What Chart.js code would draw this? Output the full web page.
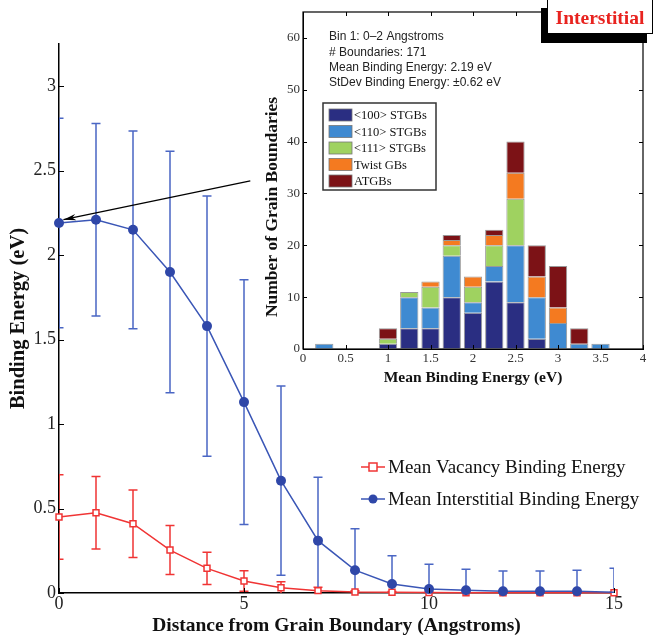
<!DOCTYPE html>
<html>
<head>
<meta charset="utf-8">
<script src="https://cdn.jsdelivr.net/npm/chart.js@4.4.1/dist/chart.umd.min.js"></script>
<style>
  html, body { margin: 0; padding: 0; background: #fff; }
  #wrap { position: relative; width: 656px; height: 640px; overflow: hidden; }
  #main { position: absolute; left: 0; top: 0; }
  #inset { position: absolute; left: 255px; top: 0; }
  #tag {
    position: absolute; left: 547px; top: -1px; width: 104px; height: 33px;
    background: #fff; border: 1px solid #000; box-shadow: -6px 9px 0 #000;
    font: bold 19.5px "Liberation Serif", "Times New Roman", serif; color: #e8231f;
    text-align: center; line-height: 35px;
  }
</style>
</head>
<body>
<div id="wrap">
  <canvas id="main" width="656" height="640"></canvas>
  <canvas id="inset" width="401" height="395"></canvas>
  <div id="tag">Interstitial</div>
</div>
<script>
// ---- main chart data ----
const distance = [0, 1, 2, 3, 4, 5, 6, 7, 8, 9, 10, 11, 12, 13, 14, 15];
const vacMean = [0.45, 0.475, 0.41, 0.254, 0.146, 0.071, 0.031, 0.014, 0.006, 0.004, 0.003, 0.002, 0.002, 0.002, 0.002, 0.002];
const vacErr  = [0.25, 0.215, 0.2, 0.145, 0.095, 0.06, 0.036, 0.02, 0.008, 0.005, 0.004, 0.003, 0.003, 0.003, 0.003, 0.003];
const intMean = [2.19, 2.21, 2.15, 1.90, 1.58, 1.13, 0.665, 0.31, 0.135, 0.053, 0.023, 0.016, 0.01, 0.01, 0.01, 0.005];
const intErr  = [0.62, 0.57, 0.585, 0.715, 0.77, 0.725, 0.56, 0.375, 0.245, 0.167, 0.147, 0.124, 0.12, 0.12, 0.125, 0.141];
const legendLabels = ['Mean Vacancy Binding Energy', 'Mean Interstitial Binding Energy'];
// arrow from the inset to the first interstitial point (data coords)
const arrowFrom = { x: 5.17, y: 2.44 };
const arrowTo = { x: 0.12, y: 2.21 };

// ---- inset histogram data ----
const bins = [0.25, 0.5, 0.75, 1.0, 1.25, 1.5, 1.75, 2.0, 2.25, 2.5, 2.75, 3.0, 3.25, 3.5];
const gb100   = [0, 0, 0, 1, 4, 4, 10, 7, 13, 9, 2, 0, 0, 0];
const gb110   = [1, 0, 0, 0, 6, 4, 8, 2, 3, 11, 8, 5, 1, 1];
const gb111   = [0, 0, 0, 1, 1, 4, 2, 3, 4, 9, 0, 0, 0, 0];
const gbTwist = [0, 0, 0, 0, 0, 1, 1, 2, 2, 5, 4, 3, 0, 0];
const gbAT    = [0, 0, 0, 2, 0, 0, 1, 0, 1, 6, 6, 8, 3, 0];
const insetNotes = ['Bin 1: 0\u20132 Angstroms', '# Boundaries: 171', 'Mean Binding Energy: 2.19 eV', 'StDev Binding Energy: \u00b10.62 eV'];
const insetYTitle = 'Number of Grain Boundaries';

const SERIF = '"Liberation Serif", "Times New Roman", serif';
const SANS = '"Liberation Sans", Arial, sans-serif';
const RED = '#f03434';
const BLUE = '#3a56b6';
const fmt = v => String(Math.round(v * 100) / 100);

// inward ticks (+ optional full box) drawn from the chart's scales
const inTicks = {
  id: 'inTicks',
  afterDraw(chart, args, opts) {
    const { ctx, chartArea: a, scales: { x, y } } = chart;
    const len = opts.len || 5;
    ctx.save();
    ctx.strokeStyle = '#000';
    ctx.lineWidth = 1;
    ctx.beginPath();
    x.ticks.forEach(t => {
      const px = Math.round(x.getPixelForValue(t.value)) + 0.5;
      ctx.moveTo(px, a.bottom); ctx.lineTo(px, a.bottom - len);
      if (opts.box) { ctx.moveTo(px, a.top); ctx.lineTo(px, a.top + len); }
    });
    y.ticks.forEach(t => {
      const py = Math.round(y.getPixelForValue(t.value)) + 0.5;
      ctx.moveTo(a.left, py); ctx.lineTo(a.left + len, py);
      if (opts.box) { ctx.moveTo(a.right, py); ctx.lineTo(a.right - len, py); }
    });
    ctx.stroke();
    if (opts.box) {
      ctx.lineWidth = 1.2;
      ctx.strokeRect(a.left, a.top, a.right - a.left, a.bottom - a.top);
    }
    ctx.restore();
  }
};

// vertical error bars with caps, clipped to the plot area
const errorBars = {
  id: 'errorBars',
  beforeDatasetsDraw(chart) {
    const { ctx, chartArea: a, scales: { x, y } } = chart;
    ctx.save();
    ctx.beginPath();
    ctx.rect(a.left, a.top, a.right - a.left, a.bottom - a.top);
    ctx.clip();
    chart.data.datasets.forEach(ds => {
      if (!ds.errors) return;
      ctx.strokeStyle = ds.errColor;
      ctx.lineWidth = 1.5;
      ds.data.forEach((p, i) => {
        const px = x.getPixelForValue(p.x);
        const hi = y.getPixelForValue(p.y + ds.errors[i]);
        const lo = y.getPixelForValue(p.y - ds.errors[i]);
        ctx.beginPath();
        ctx.moveTo(px, hi); ctx.lineTo(px, lo);
        ctx.moveTo(px - 4.5, hi); ctx.lineTo(px + 4.5, hi);
        ctx.moveTo(px - 4.5, lo); ctx.lineTo(px + 4.5, lo);
        ctx.stroke();
      });
    });
    ctx.restore();
  }
};

// arrow + line legend on the main chart
const mainExtras = {
  id: 'mainExtras',
  afterDraw(chart) {
    const { ctx, scales: { x, y } } = chart;
    ctx.save();
    // arrow
    const x1 = x.getPixelForValue(arrowFrom.x), y1 = y.getPixelForValue(arrowFrom.y);
    const x2 = x.getPixelForValue(arrowTo.x), y2 = y.getPixelForValue(arrowTo.y);
    const ang = Math.atan2(y2 - y1, x2 - x1);
    ctx.strokeStyle = '#000';
    ctx.fillStyle = '#000';
    ctx.lineWidth = 1.3;
    ctx.beginPath(); ctx.moveTo(x1, y1); ctx.lineTo(x2, y2); ctx.stroke();
    ctx.beginPath();
    ctx.moveTo(x2, y2);
    ctx.lineTo(x2 - 13 * Math.cos(ang - 0.25), y2 - 13 * Math.sin(ang - 0.25));
    ctx.lineTo(x2 - 9 * Math.cos(ang), y2 - 9 * Math.sin(ang));
    ctx.lineTo(x2 - 13 * Math.cos(ang + 0.25), y2 - 13 * Math.sin(ang + 0.25));
    ctx.closePath(); ctx.fill();

    // legend
    const lx = 361, rows = [467, 499];
    ctx.font = '19px ' + SERIF;
    ctx.textBaseline = 'middle';
    rows.forEach((ry, i) => {
      ctx.strokeStyle = i === 0 ? RED : BLUE;
      ctx.lineWidth = 1.5;
      ctx.beginPath(); ctx.moveTo(lx, ry); ctx.lineTo(lx + 24, ry); ctx.stroke();
      if (i === 0) {
        ctx.fillStyle = '#fff';
        ctx.fillRect(lx + 8, ry - 4, 8, 8);
        ctx.strokeRect(lx + 8, ry - 4, 8, 8);
      } else {
        ctx.fillStyle = '#2f47a8';
        ctx.beginPath(); ctx.arc(lx + 12, ry, 4.5, 0, Math.PI * 2); ctx.fill();
      }
      ctx.fillStyle = '#111';
      ctx.fillText(legendLabels[i], lx + 27, ry + 1);
    });
    ctx.restore();
  }
};

new Chart(document.getElementById('main'), {
  type: 'line',
  data: {
    datasets: [
      {
        label: legendLabels[0],
        data: distance.map((d, i) => ({ x: d, y: vacMean[i] })),
        errors: vacErr, errColor: RED,
        borderColor: RED, borderWidth: 1.5,
        pointStyle: 'rect', pointRadius: 4.2, pointBorderWidth: 1.5,
        pointBackgroundColor: '#fff', pointBorderColor: RED,
        clip: false, order: 2
      },
      {
        label: legendLabels[1],
        data: distance.map((d, i) => ({ x: d, y: intMean[i] })),
        errors: intErr, errColor: '#4a66c4',
        borderColor: BLUE, borderWidth: 1.5,
        pointStyle: 'circle', pointRadius: c => (c.dataIndex === 15 ? 0 : 5), pointBorderWidth: 0,
        pointBackgroundColor: '#2f47a8',
        clip: false, order: 1
      }
    ]
  },
  options: {
    responsive: false, animation: false,
    layout: { padding: { left: 0, right: 42, top: 44, bottom: 0 } },
    plugins: { legend: { display: false }, tooltip: { enabled: false }, inTicks: { len: 5 } },
    scales: {
      x: {
        type: 'linear', min: 0, max: 15,
        ticks: { stepSize: 5, color: '#222', font: { family: SERIF, size: 18 }, padding: 0, callback: fmt },
        grid: { drawOnChartArea: false, drawTicks: false },
        border: { color: '#000', width: 1.5 },
        title: { display: true, text: 'Distance from Grain Boundary (Angstroms)', color: '#111',
                 font: { family: SERIF, size: 19.5, weight: 'bold' }, padding: { top: 0, bottom: 2 } },
        afterFit: s => { s.height = 47; }
      },
      y: {
        min: 0, max: 3.25,
        ticks: { stepSize: 0.5, color: '#222', font: { family: SERIF, size: 18 }, padding: 3, callback: fmt },
        afterBuildTicks: s => { s.ticks = s.ticks.filter(t => t.value <= 3); },
        grid: { drawOnChartArea: false, drawTicks: false },
        border: { color: '#000', width: 1.5 },
        title: { display: true, text: 'Binding Energy (eV)', color: '#111',
                 font: { family: SERIF, size: 20.5, weight: 'bold' }, padding: { top: 6, bottom: 0 } },
        afterFit: s => { s.width = 59; }
      }
    }
  },
  plugins: [errorBars, inTicks, mainExtras]
});

// ---- inset ----
const insetBg = {
  id: 'insetBg',
  beforeDraw(chart) {
    const { ctx, chartArea: a } = chart;
    ctx.save();
    ctx.fillStyle = '#fff';
    ctx.fillRect(a.left, a.top, a.right - a.left, a.bottom - a.top);
    ctx.restore();
  }
};

const insetExtras = {
  id: 'insetExtras',
  afterDraw(chart) {
    const { ctx, chartArea: a } = chart;
    ctx.save();
    // y title, sits a little below the axis centre as in the original
    ctx.save();
    ctx.translate(17, 207);
    ctx.rotate(-Math.PI / 2);
    ctx.font = 'bold 17.5px ' + SERIF;
    ctx.fillStyle = '#111';
    ctx.textAlign = 'center';
    ctx.textBaseline = 'middle';
    ctx.fillText(insetYTitle, 0, 0);
    ctx.restore();

    ctx.fillStyle = '#222';
    ctx.font = '12px ' + SANS;
    ctx.textBaseline = 'middle';
    insetNotes.forEach((t, i) => ctx.fillText(t, a.left + 26, a.top + 25 + i * 15.3));

    // legend box
    const bx = a.left + 20, by = a.top + 91, bw = 113, bh = 87;
    ctx.fillStyle = '#fff';
    ctx.fillRect(bx, by, bw, bh);
    ctx.strokeStyle = '#333';
    ctx.lineWidth = 1.5;
    ctx.strokeRect(bx, by, bw, bh);
    ctx.font = '12.5px ' + SERIF;
    chart.data.datasets.forEach((ds, i) => {
      const ry = by + 12 + i * 16.5;
      ctx.fillStyle = ds.backgroundColor;
      ctx.fillRect(bx + 6, ry - 6, 23, 12);
      ctx.strokeStyle = '#777';
      ctx.lineWidth = 0.8;
      ctx.strokeRect(bx + 6, ry - 6, 23, 12);
      ctx.fillStyle = '#111';
      ctx.fillText(ds.label, bx + 31, ry + 1);
    });
    ctx.restore();
  }
};

const stackDefs = [
  ['<100> STGBs', gb100, '#2a2e82'],
  ['<110> STGBs', gb110, '#3f8ad1'],
  ['<111> STGBs', gb111, '#9fd260'],
  ['Twist GBs', gbTwist, '#f47a20'],
  ['ATGBs', gbAT, '#7c1216']
];

new Chart(document.getElementById('inset'), {
  type: 'bar',
  data: {
    datasets: stackDefs.map(([label, vals, color]) => ({
      label,
      data: bins.map((b, i) => ({ x: b, y: vals[i] })),
      backgroundColor: color,
      borderColor: 'rgba(70,70,70,0.55)',
      borderWidth: 1,
      barPercentage: 0.86,
      categoryPercentage: 1
    }))
  },
  options: {
    responsive: false, animation: false,
    layout: { padding: { left: 0, right: 13, top: 12, bottom: 0 } },
    plugins: { legend: { display: false }, tooltip: { enabled: false }, inTicks: { len: 4, box: true } },
    scales: {
      x: {
        type: 'linear', stacked: true, min: 0, max: 4, offset: false,
        ticks: { stepSize: 0.5, color: '#333', font: { family: SERIF, size: 13 }, padding: 2, callback: fmt },
        grid: { drawOnChartArea: false, drawTicks: false },
        border: { color: '#000', width: 1 },
        title: { display: true, text: 'Mean Binding Energy (eV)', color: '#111',
                 font: { family: SERIF, size: 15.5, weight: 'bold' }, padding: { top: 0, bottom: 8 } },
        afterFit: s => { s.height = 46; }
      },
      y: {
        stacked: true, min: 0, max: 65,
        ticks: { stepSize: 10, color: '#333', font: { family: SERIF, size: 13 }, padding: 3, callback: fmt },
        afterBuildTicks: s => { s.ticks = s.ticks.filter(t => t.value <= 60); },
        grid: { drawOnChartArea: false, drawTicks: false },
        border: { color: '#000', width: 1 },
        title: { display: false },
        afterFit: s => { s.width = 48; }
      }
    }
  },
  plugins: [insetBg, inTicks, insetExtras]
});
</script>
</body>
</html>
